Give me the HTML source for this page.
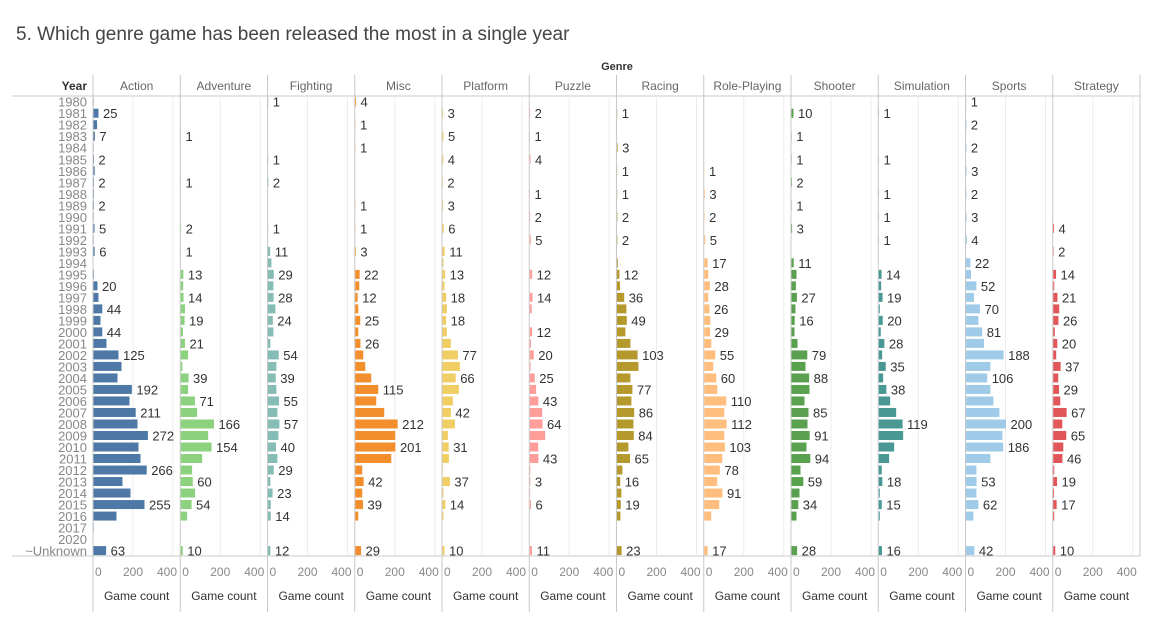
<!DOCTYPE html>
<html><head><meta charset="utf-8">
<style>
body{margin:0;background:#fff;font-family:"Liberation Sans",sans-serif;}
svg text{font-family:"Liberation Sans",sans-serif;}
</style></head>
<body>
<svg id="chart" width="1155" height="624" xmlns="http://www.w3.org/2000/svg">
<text x="16" y="40" font-size="19" fill="#444">5. Which genre game has been released the most in a single year</text>
<text x="617" y="70" font-size="11" fill="#333" text-anchor="middle" font-weight="bold">Genre</text>
<text x="87" y="90" font-size="12" fill="#333" text-anchor="end" font-weight="bold">Year</text>
<g id="g"></g>
</svg>
<script>
const genres=["Action","Adventure","Fighting","Misc","Platform","Puzzle","Racing","Role-Playing","Shooter","Simulation","Sports","Strategy"];
const colors=["#4e79a7","#8cd17d","#86bcb6","#f28e2b","#f1ce63","#ff9d9a","#b6992d","#ffbe7d","#59a14f","#499894","#a0cbe8","#e15759"];
const years=[];for(let y=1980;y<=2016;y++)years.push(String(y));years.push("2017","2020","~Unknown");
const axisTicks=[0,200,400];
const action={1980:1,1981:25,1982:18,1983:7,1984:1,1985:2,1986:6,1987:2,1988:2,1989:2,1990:1,1991:5,1992:1,1993:6,1995:2,1996:20,1997:25,1998:44,1999:35,2000:44,2001:65,2002:125,2003:140,2004:120,2005:192,2006:180,2007:211,2008:220,2009:272,2010:225,2011:235,2012:266,2013:145,2014:185,2015:255,2016:115,2017:1,"~Unknown":63};
const adventure={1983:1,1987:1,1991:2,1993:1,1995:13,1996:12,1997:14,1998:21,1999:19,2000:11,2001:21,2002:37,2003:8,2004:39,2005:37,2006:71,2007:82,2008:166,2009:137,2010:154,2011:107,2012:57,2013:60,2014:72,2015:54,2016:32,"~Unknown":10};
const fighting={1980:1,1985:1,1987:2,1991:1,1993:11,1994:17,1995:29,1996:27,1997:28,1998:37,1999:24,2000:27,2001:12,2002:54,2003:42,2004:39,2005:42,2006:55,2007:47,2008:57,2009:52,2010:40,2011:47,2012:29,2013:12,2014:23,2015:14,2016:14,"~Unknown":12};
const misc={1980:4,1982:1,1984:1,1989:1,1991:1,1993:3,1995:22,1996:20,1997:12,1998:15,1999:25,2000:15,2001:26,2002:40,2003:50,2004:80,2005:115,2006:105,2007:145,2008:212,2009:200,2010:201,2011:180,2012:35,2013:42,2014:35,2015:39,2016:15,"~Unknown":29};
const platform={1981:3,1983:5,1985:4,1987:2,1989:3,1991:6,1993:11,1994:5,1995:13,1996:10,1997:18,1998:22,1999:18,2000:22,2001:42,2002:77,2003:87,2004:66,2005:82,2006:52,2007:42,2008:62,2009:27,2010:31,2011:32,2012:2,2013:37,2014:5,2015:14,2016:5,"~Unknown":10};
const puzzle={1981:2,1983:1,1985:4,1988:1,1990:2,1992:5,1995:12,1997:14,1998:10,2000:12,2001:6,2002:20,2003:4,2004:25,2005:32,2006:43,2007:62,2008:64,2009:77,2010:42,2011:43,2012:3,2013:3,2014:2,2015:6,"~Unknown":11};
const racing={1981:1,1984:3,1986:1,1988:1,1990:2,1992:2,1994:4,1995:12,1996:15,1997:36,1998:47,1999:49,2000:42,2001:67,2002:103,2003:107,2004:67,2005:77,2006:72,2007:86,2008:82,2009:84,2010:57,2011:65,2012:27,2013:16,2014:22,2015:19,2016:17,"~Unknown":23};
const rpg={1986:1,1988:3,1990:2,1992:5,1994:17,1995:20,1996:28,1997:20,1998:26,1999:30,2000:29,2001:35,2002:55,2003:45,2004:60,2005:65,2006:110,2007:100,2008:112,2009:100,2010:103,2011:90,2012:78,2013:65,2014:91,2015:75,2016:35,"~Unknown":17};
const shooter={1981:10,1983:1,1985:1,1987:2,1989:1,1991:3,1994:11,1995:25,1996:22,1997:27,1998:20,1999:16,2000:15,2001:30,2002:79,2003:70,2004:88,2005:90,2006:65,2007:85,2008:80,2009:91,2010:75,2011:94,2012:45,2013:59,2014:40,2015:34,2016:25,"~Unknown":28};
const simulation={1981:1,1985:1,1988:1,1990:1,1992:1,1995:14,1996:12,1997:19,1998:5,1999:20,2000:10,2001:28,2002:17,2003:35,2004:22,2005:38,2006:57,2007:87,2008:119,2009:122,2010:77,2011:52,2012:15,2013:18,2014:5,2015:15,2016:5,"~Unknown":16};
const sports={1980:1,1982:2,1984:2,1986:3,1988:2,1990:3,1992:4,1994:22,1995:25,1996:52,1997:40,1998:70,1999:62,2000:81,2001:90,2002:188,2003:122,2004:106,2005:122,2006:137,2007:167,2008:200,2009:182,2010:186,2011:122,2012:52,2013:53,2014:52,2015:62,2016:37,"~Unknown":42};
const strategy={1991:4,1993:2,1995:14,1996:5,1997:21,1998:30,1999:26,2000:8,2001:20,2002:15,2003:37,2004:25,2005:29,2006:35,2007:67,2008:45,2009:65,2010:50,2011:46,2012:5,2013:19,2014:4,2015:17,2016:5,"~Unknown":10};
const labelsAction=[1981,1983,1985,1987,1989,1991,1993,1996,1998,2000,2002,2005,2007,2009,2012,2015,"~Unknown"];
const labelsAdventure=[1983,1987,1991,1993,1995,1997,1999,2001,2004,2006,2008,2010,2013,2015,"~Unknown"];
const labelsFighting=[1980,1985,1987,1991,1993,1995,1997,1999,2002,2004,2006,2008,2010,2012,2014,2016,"~Unknown"];
const labelsMisc=[1980,1982,1984,1989,1991,1993,1995,1997,1999,2001,2005,2008,2010,2013,2015,"~Unknown"];
const labelsPlatform=[1981,1983,1985,1987,1989,1991,1993,1995,1997,1999,2002,2004,2007,2010,2013,2015,"~Unknown"];
const labelsPuzzle=[1981,1983,1985,1988,1990,1992,1995,1997,2000,2002,2004,2006,2008,2011,2013,2015,"~Unknown"];
const labelsRacing=[1981,1984,1986,1988,1990,1992,1995,1997,1999,2002,2005,2007,2009,2011,2013,2015,"~Unknown"];
const labelsRpg=[1986,1988,1990,1992,1994,1996,1998,2000,2002,2004,2006,2008,2010,2012,2014,"~Unknown"];
const labelsShooter=[1981,1983,1985,1987,1989,1991,1994,1997,1999,2002,2004,2007,2009,2011,2013,2015,"~Unknown"];
const labelsSimulation=[1981,1985,1988,1990,1992,1995,1997,1999,2001,2003,2005,2008,2013,2015,"~Unknown"];
const labelsSports=[1980,1982,1984,1986,1988,1990,1992,1994,1996,1998,2000,2002,2004,2008,2010,2013,2015,"~Unknown"];
const labelsStrategy=[1991,1993,1995,1997,1999,2001,2003,2005,2007,2009,2011,2013,2015,"~Unknown"];

const series=[action,adventure,fighting,misc,platform,puzzle,racing,rpg,shooter,simulation,sports,strategy];
const labelSets=[labelsAction,labelsAdventure,labelsFighting,labelsMisc,labelsPlatform,labelsPuzzle,labelsRacing,labelsRpg,labelsShooter,labelsSimulation,labelsSports,labelsStrategy];

const NS="http://www.w3.org/2000/svg";
const g=document.getElementById('g');
const left0=93,panelW=87.25,pxPer=0.2,row0=101.7,rowH=11.51,topY=96,axisY=556;
const xScale=(p,v)=>left0+p*panelW+v*pxPer;
const yScale=i=>row0+i*rowH;
function mk(tag,attrs,txt){const e=document.createElementNS(NS,tag);for(const k in attrs)e.setAttribute(k,attrs[k]);if(txt!==undefined)e.textContent=txt;g.appendChild(e);return e;}

let l=mk('line',{x1:12,x2:1140,y1:topY,y2:topY,stroke:'#c8c8c8'});


l=mk('line',{x1:12,x2:1140,y1:axisY,y2:axisY,stroke:'#c8c8c8'});



years.forEach((y,i)=>{
  const t=mk('text',{x:87,y:yScale(i)+5,'font-size':13,fill:'#888','text-anchor':'end'},y);
  
  
});

genres.forEach((gn,p)=>{
  const px=left0+p*panelW;
  axisTicks.forEach(tv=>{
    if(tv>0){const gl=mk('line',{x1:xScale(p,tv),x2:xScale(p,tv),y1:topY,y2:axisY,stroke:'#ececec'});
    
    }
    const anchor=tv===0?'start':(tv===400?'end':'middle');
    const tx=tv===0?xScale(p,tv)+2:(tv===400?xScale(p,tv)+4:xScale(p,tv));
    const tl=mk('text',{x:tx,y:576,'font-size':12,fill:'#888','text-anchor':anchor},String(tv));
    
    
  });
  const dv=mk('line',{x1:px,x2:px,y1:75,y2:612,stroke:'#c8c8c8'});
  
  
  const h=mk('text',{x:px+panelW/2,y:90,'font-size':12,fill:'#666','text-anchor':'middle'},gn);
  
  
  const at=mk('text',{x:px+panelW/2,y:600,'font-size':12,fill:'#333','text-anchor':'middle'},'Game count');
  
  
  const data=series[p],lbls=labelSets[p].map(String);
  years.forEach((y,i)=>{
    const v=data[y]||0;
    if(v>0){
      const b=mk('rect',{x:px+0.5,y:yScale(i)-4.5,width:v*pxPer,height:9,fill:colors[p]});
      
      
    }
    if(lbls.includes(y)){
      const t=mk('text',{x:xScale(p,v)+5,y:yScale(i)+5,'font-size':13,fill:'#333'},String(v));
      
      
    }
  });
});
const rd=mk('line',{x1:1140,x2:1140,y1:75,y2:556,stroke:'#c8c8c8'});


</script>
</body></html>
